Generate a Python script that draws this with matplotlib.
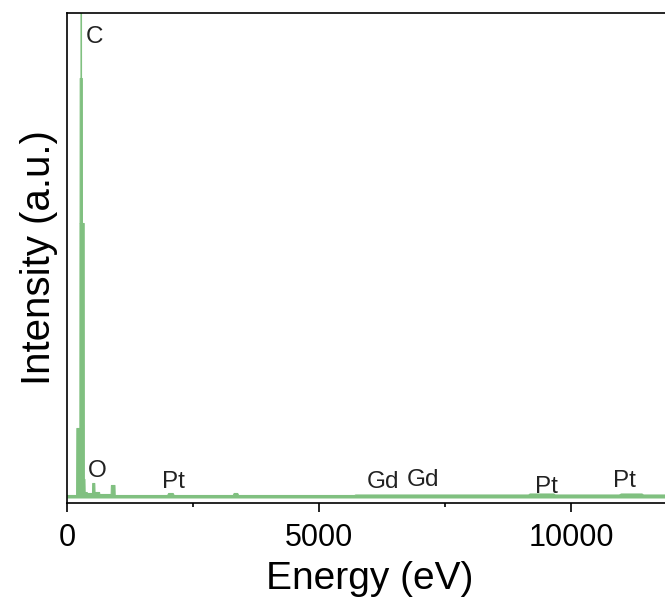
import numpy as np
import matplotlib
matplotlib.use('Agg')
import matplotlib.pyplot as plt
from matplotlib.ticker import MultipleLocator

plt.rcParams['font.family'] = ['Liberation Sans', 'DejaVu Sans']

## EDS spectrum, read as (energy eV, counts)
energy = [0, 185, 190, 250, 252, 254, 256, 272, 274, 280, 282, 298, 300, 335, 338, 350,
          354, 395, 400, 500, 504, 545, 550, 640, 645, 870, 875, 945, 950, 1000,
          1990, 2010, 2100, 2120, 3290, 3310, 3380, 3400,
          5700, 5720, 9100, 9150, 9180, 9650, 9680, 10950, 10990, 11400, 11430, 12000]
counts = [30, 30, 700, 700, 2750, 2750, 4200, 4200, 7000, 7000, 4200, 4200, 2750, 2750, 190, 190,
          60, 60, 50, 50, 150, 150, 60, 60, 40, 40, 130, 130, 30, 30,
          30, 50, 50, 30, 30, 50, 50, 30,
          30, 35, 35, 35, 45, 45, 35, 35, 45, 45, 35, 35]

## peak labels
peak_names = ['C', 'O', 'Pt', 'Gd', 'Gd', 'Pt', 'Pt']
peak_x = [536, 585, 2113, 6270, 7053, 9513, 11051]
peak_y = [4555, 215, 105, 105, 125, 55, 115]

green = '#80c080'

fig = plt.figure(figsize=(6.65, 6.01), dpi=100)
ax = fig.add_axes([67.3/665, (601-502.5)/601, 605/665, 489.8/601])

ax.fill_between(energy, 0, counts, color=green, lw=0)
ax.plot(energy, counts, color=green, lw=0.8)

for name, x, y in zip(peak_names, peak_x, peak_y):
	ax.text(x, y, name, ha='center', va='baseline', fontsize=17.5, color='#222222')

ax.set_xlim(0, 12000)
ax.set_ylim(-40, 4858)
ax.xaxis.set_major_locator(MultipleLocator(5000))
ax.xaxis.set_minor_locator(MultipleLocator(2500))
ax.set_yticks([])
ax.tick_params(axis='x', which='major', direction='out', length=6.5, width=1.2, labelsize=22, pad=8)
ax.tick_params(axis='x', which='minor', direction='out', length=3, width=1.2)
for s in ax.spines.values():
	s.set_linewidth(1.2)

ax.set_xlabel('Energy (eV)', fontsize=28, labelpad=6)
ax.set_ylabel('Intensity (a.u.)', fontsize=29, labelpad=7)

fig.savefig('out.png', dpi=100)
